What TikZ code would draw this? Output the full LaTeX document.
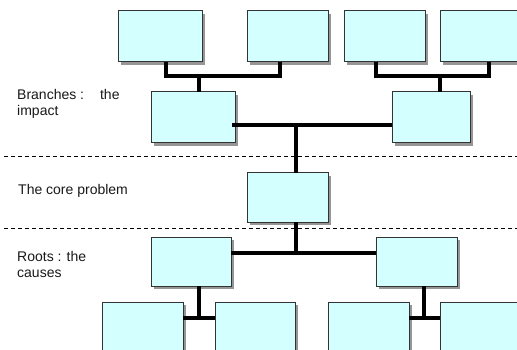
\documentclass[tikz,border=0pt]{standalone}
\usepackage{fontspec}
\setmainfont{Liberation Sans}
\usetikzlibrary{shadows}
\definecolor{boxfill}{RGB}{212,255,255}
\definecolor{boxline}{RGB}{51,51,51}
\definecolor{shadowgray}{RGB}{150,150,150}
\begin{document}
\begin{tikzpicture}[x=1pt,y=-1pt,
  box/.style={rectangle, draw=boxline, line width=1pt, fill=boxfill,
    drop shadow={shadow xshift=3pt, shadow yshift=-3pt, fill=shadowgray, opacity=1},
    inner sep=0pt, outer sep=0pt, anchor=north west},
  conn/.style={line width=3.3pt, line join=miter, draw=black},
  sep/.style={draw=black, line width=0.8pt, dash pattern=on 4pt off 3pt},
  lbl/.style={anchor=west, align=left, inner sep=0pt, text=black!90,
    font=\fontsize{14}{16}\selectfont}]
\useasboundingbox (0,0) rectangle (517,350);
\clip (0,0) rectangle (517,350);
\fill[white] (0,0) rectangle (517,350);

% separators
\draw[sep] (4,156) -- (517,156);
\draw[sep] (4,228) -- (517,228);

% labels
\node[lbl] (lb1) at (17,104) {Branches :\hspace{16pt}the\\impact};
\node[lbl] (lb2) at (18,191) {The core problem};
\node[lbl] (lb3) at (17,264) {Roots : the\\causes};

% top row
\node[box, minimum width=84pt, minimum height=51pt] (t1) at (118,11) {};
\node[box, minimum width=81pt, minimum height=51pt] (t2) at (247,11) {};
\node[box, minimum width=81pt, minimum height=51pt] (t3) at (344,11) {};
\node[box, minimum width=81pt, minimum height=51pt] (t4) at (440,11) {};
% branches
\node[box, minimum width=84pt, minimum height=51pt] (bl) at (151,92) {};
\node[box, minimum width=78pt, minimum height=51pt] (br) at (392,92) {};
% core
\node[box, minimum width=81pt, minimum height=49pt] (core) at (247,173) {};
% roots
\node[box, minimum width=80pt, minimum height=49pt] (rl) at (151,237) {};
\node[box, minimum width=81pt, minimum height=49pt] (rr) at (376,237) {};
% bottom row
\node[box, minimum width=81pt, minimum height=50pt] (d1) at (102,302) {};
\node[box, minimum width=80pt, minimum height=50pt] (d2) at (215,302) {};
\node[box, minimum width=81pt, minimum height=50pt] (d3) at (328,302) {};
\node[box, minimum width=81pt, minimum height=50pt] (d4) at (440,302) {};

% junction coordinates
\coordinate (a1) at (166,76);
\coordinate (a2) at (280,76);
\coordinate (a3) at (199,76);
\coordinate (c1) at (376,76);
\coordinate (c2) at (489,76);
\coordinate (c3) at (440,76);
\coordinate (m) at (296,125);
\coordinate (r) at (296,253);
\coordinate (p) at (199,318);
\coordinate (q) at (424,318);

% connectors
\draw[conn] (t1.south -| a1) -- (a1) -- (a2) -- (t2.south -| a2);
\draw[conn] (a3) -- (bl.north -| a3);
\draw[conn] (t3.south -| c1) -- (c1) -- (c2) -- (t4.south -| c2);
\draw[conn] (c3) -- (br.north -| c3);
\draw[conn] (br.west |- m) -- (bl.east |- m) -- ++(-3,0);
\draw[conn] (m) -- (core.north -| m);
\draw[conn] (core.south -| r) -- (r);
\draw[conn] (rl.east |- r) -- (rr.west |- r);
\draw[conn] (rl.south -| p) -- (p);
\draw[conn] (d1.east |- p) -- (d2.west |- p);
\draw[conn] (rr.south -| q) -- (q);
\draw[conn] (d3.east |- q) -- (d4.west |- q);
\end{tikzpicture}
\end{document}
